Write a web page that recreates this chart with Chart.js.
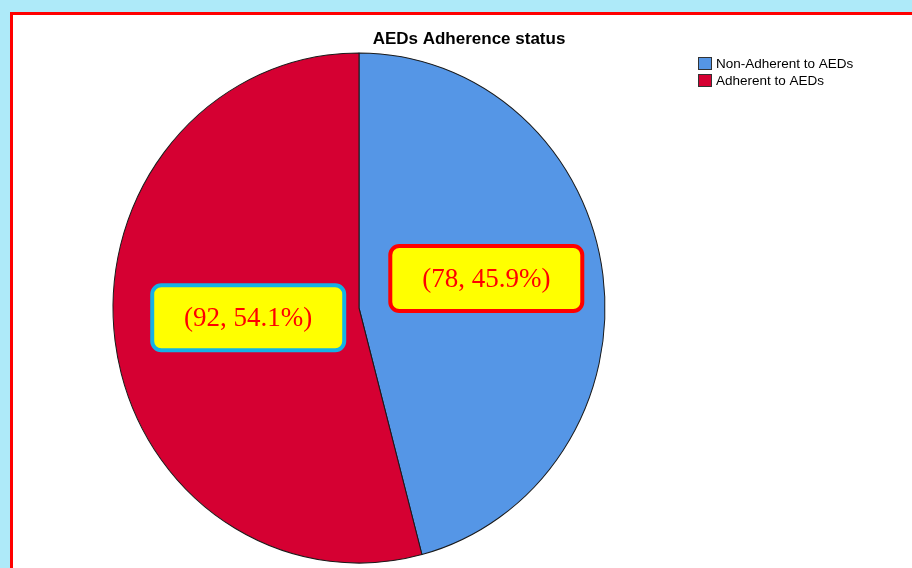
<!DOCTYPE html>
<html>
<head>
<meta charset="utf-8">
<script src="https://cdn.jsdelivr.net/npm/chart.js@4.4.0/dist/chart.umd.min.js"></script>
<style>
    html, body { margin: 0; padding: 0; width: 912px; height: 568px; overflow: hidden; background: #aeeaf9; }
    #frame { position: absolute; left: 10px; top: 12px; width: 940px; height: 600px; border: 3px solid #ff0000; background: #fff; }
    #wrap { position: absolute; left: 0; top: 0; width: 912px; height: 568px; }
</style>
</head>
<body>
<div id="frame"></div>
<div id="wrap"><canvas id="pieChart"></canvas></div>
<script>
'use strict';

// chart data
const chartTitle = 'AEDs Adherence status';
const categories = ['Non-Adherent to AEDs', 'Adherent to AEDs'];
const counts = [78, 92];
const sliceColors = ['#5596e6', '#d50032'];
const labelBorderColors = ['#ff0000', '#14b2e6'];

const total = counts.reduce((a, b) => a + b, 0);
const SCALE_Y = 1.037;   // the original pie is a little taller than wide

// stretch the pie vertically around its centre
const ellipsePlugin = {
    id: 'ellipse',
    beforeDatasetsDraw(chart) {
        const { ctx, chartArea: a } = chart;
        const cx = (a.left + a.right) / 2;
        const cy = (a.top + a.bottom) / 2;
        ctx.save();
        ctx.translate(cx, cy);
        ctx.scale(1, SCALE_Y);
        ctx.translate(-cx, -cy);
    },
    afterDatasetsDraw(chart) {
        chart.ctx.restore();
    }
};

// title, legend and the yellow value boxes
const decorPlugin = {
    id: 'decor',
    afterDraw(chart, args, opts) {
        const ctx = chart.ctx;
        ctx.save();

        // title
        ctx.fillStyle = '#000';
        ctx.font = 'bold 17px "Liberation Sans", Arial, sans-serif';
        ctx.textAlign = 'center';
        ctx.textBaseline = 'middle';
        ctx.fillText(chartTitle, 469, 39);

        // legend
        ctx.font = '13.5px "Liberation Sans", Arial, sans-serif';
        ctx.textAlign = 'left';
        categories.forEach((name, i) => {
            const y = 57 + i * 17;
            ctx.fillStyle = sliceColors[i];
            ctx.fillRect(698, y, 14, 13);
            ctx.strokeStyle = '#333';
            ctx.lineWidth = 1;
            ctx.strokeRect(698.5, y + 0.5, 13, 12);
            ctx.fillStyle = '#000';
            ctx.fillText(name, 716, y + 7.5);
        });

        // value boxes
        const meta = chart.getDatasetMeta(0);
        meta.data.forEach((arc, i) => {
            const mid = (arc.startAngle + arc.endAngle) / 2;
            const r = arc.outerRadius * opts.dist[i];
            const px = arc.x + Math.cos(mid) * r + opts.shift[i][0];
            const py = arc.y + Math.sin(mid) * r * SCALE_Y + opts.shift[i][1];
            const w = 196, h = 69, bw = 4;

            ctx.beginPath();
            ctx.roundRect(px - w / 2 + bw / 2, py - h / 2 + bw / 2, w - bw, h - bw, 9);
            ctx.fillStyle = '#ffff00';
            ctx.fill();
            ctx.lineWidth = bw;
            ctx.strokeStyle = labelBorderColors[i];
            ctx.stroke();

            const pct = (counts[i] / total * 100).toFixed(1);
            ctx.fillStyle = '#ff0000';
            ctx.font = '27px "Liberation Serif", "Times New Roman", serif';
            ctx.textAlign = 'center';
            ctx.textBaseline = 'middle';
            ctx.fillText('(' + counts[i] + ', ' + pct + '%)', px, py + 1);
        });

        ctx.restore();
    }
};

new Chart(document.getElementById('pieChart'), {
    type: 'pie',
    data: {
        labels: categories,
        datasets: [{
            data: counts,
            backgroundColor: sliceColors,
            borderColor: '#1a1a1a',
            borderWidth: 1
        }]
    },
    options: {
        responsive: true,
        maintainAspectRatio: false,
        animation: false,
        events: [],
        radius: 246,
        layout: {
            padding: { left: 20, right: 214, top: 55, bottom: 7 }
        },
        plugins: {
            legend: { display: false },
            title: { display: false },
            tooltip: { enabled: false },
            decor: {
                dist: [0.53, 0.45],
                shift: [[-2, -12], [-1, -5]]
            }
        }
    },
    plugins: [ellipsePlugin, decorPlugin]
});
</script>
</body>
</html>
